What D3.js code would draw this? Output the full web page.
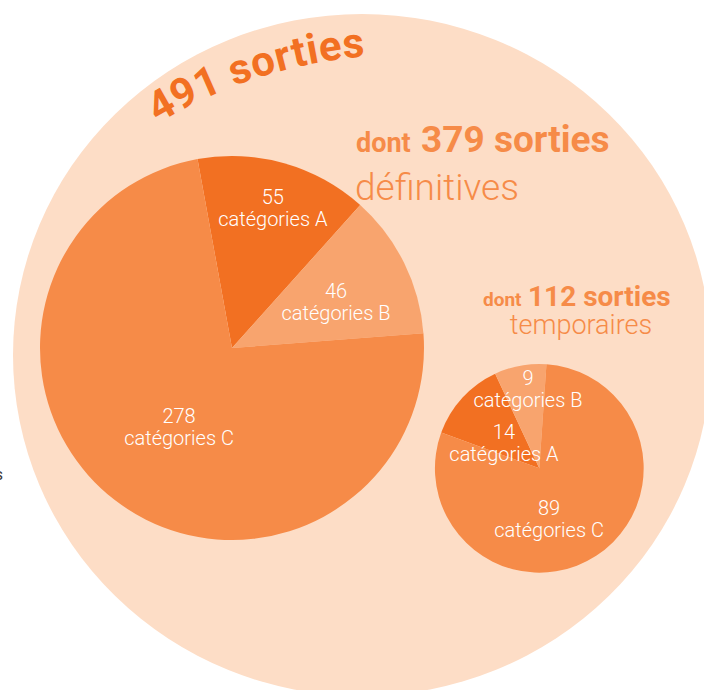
<!DOCTYPE html>
<html>
<head>
<meta charset="utf-8">
<script src="https://cdn.jsdelivr.net/npm/d3@7/dist/d3.min.js"></script>
<style>
  html, body { margin: 0; padding: 0; background: #fff; }
  svg { display: block; }
  text { font-family: Roboto, "Open Sans", sans-serif; }
</style>
</head>
<body>
<svg id="chart" width="704" height="690"></svg>
<script>
// Exits split by type and by category
const categories = ["catégories A", "catégories B", "catégories C"];
const categoryKeys = ["A", "B", "C"];
const definitives = [55, 46, 278];
const temporaires = [14, 9, 89];

const colors = { A: "#F27022", B: "#F8A46E", C: "#F68B48" };
const peach = "#FDDDC6";
const titleDark = "#F27022";
const titleMid = "#F68B48";

const svg = d3.select("#chart");

const sum = a => d3.sum(a);
const totalDef = sum(definitives);
const totalTmp = sum(temporaires);
const totalAll = totalDef + totalTmp;

// Pie radii: area proportional to the number of exits
const rScale = d3.scaleSqrt().domain([0, totalDef]).range([0, 192]);

// Background disc holding both pies
svg.append("ellipse")
  .attr("cx", 362).attr("cy", 355)
  .attr("rx", 349).attr("ry", 341)
  .attr("fill", peach);

// Partial word from neighbouring text at the left margin
svg.append("text")
  .attr("x", 3).attr("y", 480)
  .attr("text-anchor", "end")
  .attr("font-size", 16)
  .attr("fill", "#3a3a3a")
  .text("s");

const deg = Math.PI / 180;

function drawPie(values, cx, cy, startDeg, labelAt) {
  const r = rScale(sum(values));
  const rows = values.map((v, i) => ({ key: categoryKeys[i], label: categories[i], value: v, i }));
  const pie = d3.pie().sort(null).value(d => d.value)
    .startAngle(startDeg * deg).endAngle(startDeg * deg + 2 * Math.PI);
  const arc = d3.arc().innerRadius(0).outerRadius(r);
  const g = svg.append("g").attr("transform", `translate(${cx},${cy})`);
  const arcs = pie(rows);

  g.selectAll("path").data(arcs).join("path")
    .attr("d", arc)
    .attr("fill", d => colors[d.data.key]);

  const lab = g.selectAll("g.lab").data(arcs).join("g")
    .attr("class", "lab")
    .attr("transform", d => {
      const [frac, nudge] = labelAt[d.data.i];
      const a = (d.startAngle + d.endAngle) / 2 + nudge * deg;
      const rr = frac * r;
      return `translate(${rr * Math.sin(a)},${-rr * Math.cos(a)})`;
    });
  lab.append("text")
    .attr("text-anchor", "middle").attr("y", -3.5)
    .attr("font-size", 20).attr("font-weight", 300).attr("fill", "#fff")
    .text(d => d.data.value);
  lab.append("text")
    .attr("text-anchor", "middle").attr("y", 18.5)
    .attr("font-size", 20).attr("font-weight", 300).attr("fill", "#fff")
    .text(d => d.data.label);
}

// [radius fraction, angular nudge in degrees] for each category label
drawPie(definitives, 232, 348, -10.35, [[0.764, 0.4], [0.594, 2], [0.493, -3.6]]);
drawPie(temporaires, 539.3, 468.3, -70, [[0.42, -6.3], [0.77, 2.45], [0.49, 22]]);

// Curved headline along the top of the disc
const arcC = [403, 527], arcR = 472;
const hp = d3.path();
hp.arc(arcC[0], arcC[1], arcR, (-31.3 - 90) * deg, (10 - 90) * deg);
svg.append("defs").append("path").attr("id", "headline").attr("d", hp.toString());
svg.append("text")
  .attr("font-size", 42).attr("font-weight", 700).attr("fill", titleDark)
  .attr("letter-spacing", 0.6)
  .append("textPath").attr("href", "#headline")
  .text(`${totalAll} sorties`);

// Definitive exits heading
svg.append("text").attr("x", 356).attr("y", 151.5)
  .attr("font-size", 27).attr("font-weight", 700).attr("fill", titleMid).text("dont");
svg.append("text").attr("x", 421).attr("y", 151.5)
  .attr("font-size", 37).attr("font-weight", 700).attr("fill", titleMid)
  .text(`${totalDef} sorties`);
svg.append("text").attr("x", 355).attr("y", 200)
  .attr("font-size", 37).attr("font-weight", 300).attr("fill", titleMid).text("définitives");

// Temporary exits heading
svg.append("text").attr("x", 483).attr("y", 306)
  .attr("font-size", 19).attr("font-weight", 700).attr("fill", titleMid).text("dont");
svg.append("text").attr("x", 528).attr("y", 306)
  .attr("font-size", 28).attr("font-weight", 700).attr("fill", titleMid)
  .text(`${totalTmp} sorties`);
svg.append("text").attr("x", 581).attr("y", 334).attr("text-anchor", "middle")
  .attr("font-size", 27).attr("font-weight", 300).attr("fill", titleMid).text("temporaires");
</script>
</body>
</html>
